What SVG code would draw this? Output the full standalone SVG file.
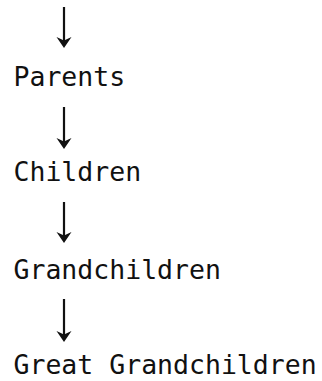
<svg xmlns="http://www.w3.org/2000/svg" width="322" height="381" viewBox="0 0 322 381">
<defs>
<style>
.t{font-family:"DejaVu Sans Mono","Liberation Mono",monospace;font-size:26.5px;fill:#111}
.s{stroke:#111;stroke-width:2.2;fill:none}
.h{fill:#111}
</style>
<path id="head" d="M0,0 L-7.5,-11 L0,-7.5 L7.5,-11 Z"/>
</defs>
<rect width="322" height="381" fill="#fff"/>
<g id="connectors">
<g><line class="s" x1="64" y1="7" x2="64" y2="42"/><use href="#head" class="h" x="64" y="48"/></g>
<g><line class="s" x1="64" y1="107" x2="64" y2="143"/><use href="#head" class="h" x="64" y="149"/></g>
<g><line class="s" x1="64" y1="202" x2="64" y2="237"/><use href="#head" class="h" x="64" y="243"/></g>
<g><line class="s" x1="64" y1="299" x2="64" y2="336"/><use href="#head" class="h" x="64" y="342"/></g>
</g>
<g id="parents"><text class="t" x="13.5" y="86">Parents</text></g>
<g id="children"><text class="t" x="13.5" y="181">Children</text></g>
<g id="grandchildren"><text class="t" x="13.5" y="279">Grandchildren</text></g>
<g id="great-grandchildren"><text class="t" x="13.5" y="374">Great Grandchildren</text></g>
</svg>
